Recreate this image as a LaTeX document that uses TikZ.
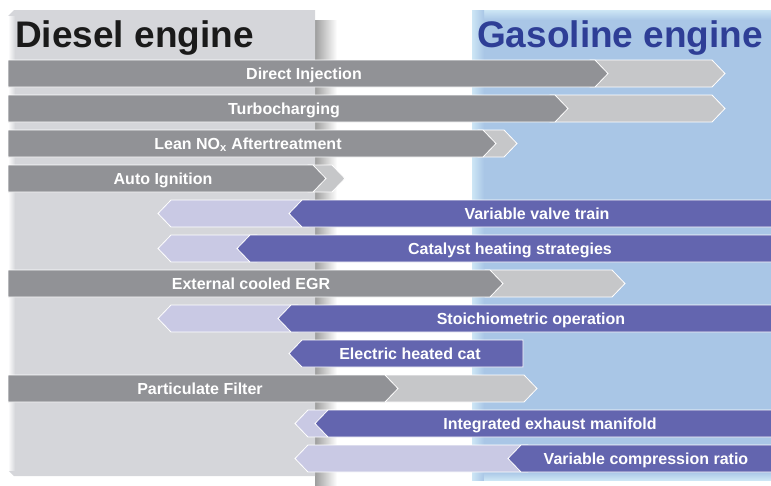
\documentclass[tikz,border=0pt]{standalone}
\usepackage{fontspec}
\setmainfont{Liberation Sans}
\usepackage{xcolor}
\usepackage{tikz}

\definecolor{dieselpanel}{RGB}{213,214,218}
\definecolor{dieseldark}{RGB}{145,146,150}
\definecolor{diesellight}{RGB}{198,199,201}
\definecolor{gaspanel}{RGB}{169,198,230}
\definecolor{gasedge}{RGB}{205,230,245}
\definecolor{gasdark}{RGB}{99,101,175}
\definecolor{gaslight}{RGB}{201,201,228}
\definecolor{gastitle}{RGB}{46,62,150}
\definecolor{dieseltitle}{RGB}{26,26,26}

\begin{document}
\begin{tikzpicture}[x=1pt,y=-1pt,
    chevron/.style={draw=white,line width=0.8pt},
    barlabel/.style={text=white,anchor=base,font=\fontsize{16}{19}\selectfont\bfseries},
    paneltitle/.style={anchor=base west,inner sep=0pt,font=\fontsize{37}{41}\selectfont\bfseries}]
    \useasboundingbox (0,0) rectangle (771,485);

    % the two engine panels
    \shade[left color=black!38,right color=white] (315,20) rectangle (337,485);
    \fill[dieselpanel] (8,16) -- (14,10) -- (315,10) -- (315,476) -- (14,476) -- (8,470) -- cycle;
    \shade[left color=white,right color=dieselpanel] (8,16) rectangle (15,470);
    \fill[gaspanel] (472,10) rectangle (771,480);
    \shade[top color=gasedge,bottom color=gaspanel] (472,10) rectangle (771,20);
    \shade[left color=gasedge,right color=gaspanel] (472,10) rectangle (484,480);
    \shade[top color=gaspanel,bottom color=gasedge] (484,472) rectangle (771,480);

    \node[paneltitle,text=dieseltitle] (diesel) at (15,47) {Diesel engine};
    \node[paneltitle,text=gastitle] (gasoline) at (477,47) {Gasoline engine};

    % diesel technologies, pointing right
    \foreach \name/\y/\xd/\xl/\xt/\txt in {
        di/60/595/725/304/Direct Injection,
        turbo/95/555/725/284/Turbocharging,
        nox/130/483/517/248/Lean NO\textsubscript{x} Aftertreatment,
        ign/165/313/345/163/Auto Ignition,
        egr/270/490/625/251/External cooled EGR,
        dpf/375/385/537/200/Particulate Filter}
    {
        \filldraw[chevron,fill=diesellight] (\xd-5,\y) -- (\xl-13,\y) -- (\xl,\y+13.5) -- (\xl-13,\y+27) -- (\xd-5,\y+27) -- cycle;
        \filldraw[chevron,fill=dieseldark] (8,\y) -- (\xd,\y) -- (\xd+13,\y+13.5) -- (\xd,\y+27) -- (8,\y+27) -- cycle;
        \node[barlabel] (\name) at (\xt,\y+19) {\txt};
    }

    % gasoline technologies, pointing left
    \foreach \name/\y/\xd/\xl/\xt/\txt in {
        vvt/200/289/158/537/Variable valve train,
        cat/235/237/158/510/Catalyst heating strategies,
        stoich/305/278/158/531/Stoichiometric operation,
        manifold/410/315/295/550/Integrated exhaust manifold,
        vcr/445/508/295/646/Variable compression ratio}
    {
        \filldraw[chevron,fill=gaslight] (\xl,\y+13.5) -- (\xl+13,\y) -- (\xd+20,\y) -- (\xd+20,\y+27) -- (\xl+13,\y+27) -- cycle;
        \filldraw[chevron,fill=gasdark] (\xd,\y+13.5) -- (\xd+13,\y) -- (772,\y) -- (772,\y+27) -- (\xd+13,\y+27) -- cycle;
        \node[barlabel] (\name) at (\xt,\y+19) {\txt};
    }

    \filldraw[chevron,fill=gasdark] (289,353.5) -- (302,340) -- (523,340) -- (523,367) -- (302,367) -- cycle;
    \node[barlabel] (ehc) at (410,359) {Electric heated cat};
\end{tikzpicture}
\end{document}
